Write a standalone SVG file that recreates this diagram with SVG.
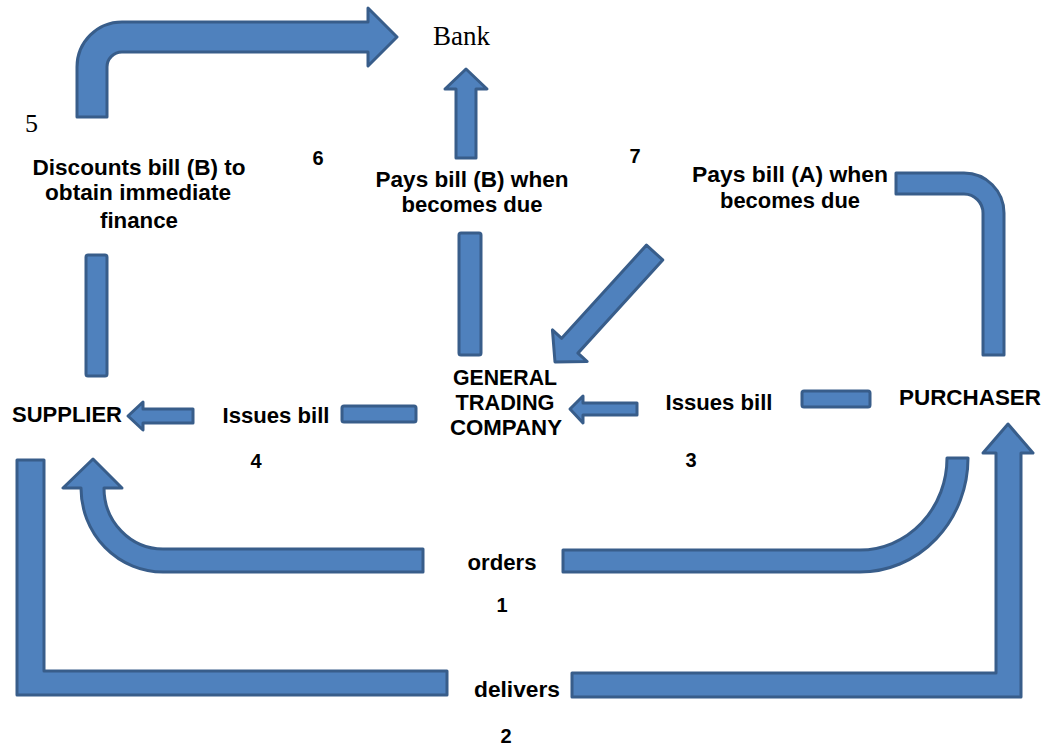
<svg xmlns="http://www.w3.org/2000/svg" width="1050" height="746" viewBox="0 0 1050 746">
  <style>
    .flow { fill: #4F81BD; stroke: #385D8A; stroke-width: 3; stroke-linejoin: round; }
    .lbl { font-family: "Liberation Sans", Arial, sans-serif; font-weight: bold; font-size: 22px; fill: #000; text-anchor: middle; }
    .num { font-family: "Liberation Sans", Arial, sans-serif; font-weight: bold; font-size: 20px; fill: #000; text-anchor: middle; }
    .serif { font-family: "Liberation Serif", "Times New Roman", serif; fill: #000; }
  </style>
  <rect width="1050" height="746" fill="#fff"/>

  <!-- block arrows between parties -->
  <g id="connectors">
    <!-- 5: supplier discounts bill at bank -->
    <path class="flow" d="M77,117 L77,67 A45,45 0 0 1 122,22 L368,22 L368,8 L397,37 L368,66 L368,52 L122,52 A15,15 0 0 0 107,67 L107,117 Z"/>
    <rect class="flow" x="86" y="255" width="21" height="121" rx="2"/>

    <!-- 6: trading company pays bank -->
    <path class="flow" d="M456,158 L456,89 L445,89 L466,69 L487,89 L476,89 L476,158 Z"/>
    <rect class="flow" x="459" y="233" width="22" height="122" rx="2"/>

    <!-- 7: purchaser pays trading company -->
    <polygon class="flow" transform="translate(555,362) rotate(132.3)" points="0,0 -22,-23.5 -22,-11 -148,-11 -148,11 -22,11 -22,23.5"/>
    <path class="flow" d="M896,173 L964,173 A40,40 0 0 1 1004,213 L1004,355 L983,355 L983,213 A19,19 0 0 0 964,194 L896,194 Z"/>

    <!-- 4: trading company issues bill to supplier -->
    <path class="flow" d="M193,409 L143,409 L143,402 L128,416 L143,430 L143,423 L193,423 Z"/>
    <rect class="flow" x="342" y="406" width="74" height="16" rx="2"/>

    <!-- 3: purchaser issues bill to trading company -->
    <path class="flow" d="M637,403 L583,403 L583,396 L570,409 L583,423 L583,415 L637,415 Z"/>
    <rect class="flow" x="802" y="391" width="68" height="16" rx="2"/>

    <!-- 1: orders -->
    <path class="flow" d="M423,549 L163,549 A59,61 0 0 1 104,488 L122,488 L93,459 L63,488 L81,488 A82,84 0 0 0 163,572 L423,572 Z"/>
    <path class="flow" d="M563,550 L860,550 A87,92 0 0 0 947,458 L968,458 A108,114 0 0 1 860,572 L563,572 Z"/>

    <!-- 2: delivers -->
    <path class="flow" d="M17,460 L44,460 L44,671 L447,671 L447,695 L17,695 Z"/>
    <path class="flow" d="M572,673 L996,673 L996,453 L983,453 L1008,424 L1033,453 L1021,453 L1021,697 L572,697 Z"/>
  </g>

  <!-- parties -->
  <g id="bank">
    <text class="serif" x="433" y="45" font-size="27">Bank</text>
  </g>
  <g id="supplier">
    <text class="lbl" x="67" y="422" textLength="110" lengthAdjust="spacingAndGlyphs">SUPPLIER</text>
  </g>
  <g id="trading-company">
    <text class="lbl" x="505" y="385" textLength="104" lengthAdjust="spacingAndGlyphs">GENERAL</text>
    <text class="lbl" x="505" y="410" textLength="99" lengthAdjust="spacingAndGlyphs">TRADING</text>
    <text class="lbl" x="506" y="435" textLength="112" lengthAdjust="spacingAndGlyphs">COMPANY</text>
  </g>
  <g id="purchaser">
    <text class="lbl" x="970" y="405" textLength="142" lengthAdjust="spacingAndGlyphs">PURCHASER</text>
  </g>

  <!-- flow labels and step numbers -->
  <g id="labels">
    <text class="serif" x="25" y="132" font-size="26">5</text>
    <text class="lbl" x="139" y="175" textLength="213" lengthAdjust="spacingAndGlyphs">Discounts bill (B) to</text>
    <text class="lbl" x="138" y="200" textLength="186" lengthAdjust="spacingAndGlyphs">obtain immediate</text>
    <text class="lbl" x="139" y="228" textLength="78" lengthAdjust="spacingAndGlyphs">finance</text>
    <text class="num" x="318" y="165">6</text>

    <text class="lbl" x="472" y="187" textLength="193" lengthAdjust="spacingAndGlyphs">Pays bill (B) when</text>
    <text class="lbl" x="472" y="212" textLength="141" lengthAdjust="spacingAndGlyphs">becomes due</text>
    <text class="num" x="635" y="163">7</text>

    <text class="lbl" x="790" y="182" textLength="196" lengthAdjust="spacingAndGlyphs">Pays bill (A) when</text>
    <text class="lbl" x="790" y="208" textLength="140" lengthAdjust="spacingAndGlyphs">becomes due</text>

    <text class="lbl" x="276" y="423" textLength="107" lengthAdjust="spacingAndGlyphs">Issues bill</text>
    <text class="num" x="256" y="468">4</text>
    <text class="lbl" x="719" y="410" textLength="107" lengthAdjust="spacingAndGlyphs">Issues bill</text>
    <text class="num" x="691" y="467">3</text>

    <text class="lbl" x="502" y="570" textLength="69" lengthAdjust="spacingAndGlyphs">orders</text>
    <text class="num" x="502" y="612">1</text>
    <text class="lbl" x="517" y="697" textLength="86" lengthAdjust="spacingAndGlyphs">delivers</text>
    <text class="num" x="506" y="743">2</text>
  </g>
</svg>
